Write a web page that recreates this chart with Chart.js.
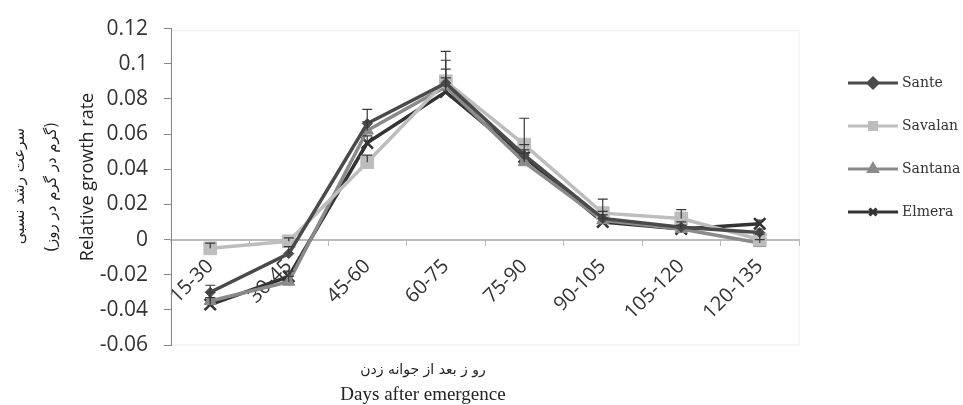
<!DOCTYPE html>
<html>
<head>
<meta charset="utf-8">
<script src="https://cdn.jsdelivr.net/npm/chart.js@4/dist/chart.umd.min.js"></script>
<style>
  html, body { margin: 0; padding: 0; background: #fff; }
  #grafico { width: 963px; height: 405px; }
</style>
</head>
<body>
<div id="grafico"><canvas id="rgr"></canvas></div>
<script>
// Días después de la emergencia (categorías del eje x)
const dias = ["15-30", "30-45", "45-60", "60-75", "75-90", "90-105", "105-120", "120-135"];
const variedades = ["Sante", "Savalan", "Santana", "Elmera"];

// Tasa relativa de crecimiento
const sante = [-0.030, -0.008, 0.066, 0.089, 0.048, 0.012, 0.007, 0.004];
const savalan = [-0.005, -0.001, 0.044, 0.090, 0.054, 0.015, 0.012, 0.000];
const santana = [-0.035, -0.024, 0.062, 0.087, 0.044, 0.011, 0.006, -0.002];
const elmera = [-0.037, -0.021, 0.055, 0.084, 0.047, 0.010, 0.006, 0.009];

// Barras de error (sólo hacia arriba, como en Excel "plus")
const errSante = [0.004, 0.004, 0.008, 0.018, 0.006, 0.004, 0.003, 0.002];
const errSavalan = [0.003, 0.002, 0.004, 0.012, 0.015, 0.008, 0.005, 0.003];
const errSantana = [0.005, 0.003, 0.005, 0.010, 0.005, 0.003, 0.002, 0.002];
const errElmera = [0.004, 0.003, 0.004, 0.008, 0.004, 0.002, 0.002, 0.002];

// Ticks del eje y
const yMin = -0.06;
const yMax = 0.12;
const yPaso = 0.02;

const colores = ["#4a4a4a", "#bdbdbd", "#8a8a8a", "#333333"];
const marcadores = ["rectRot", "rect", "triangle", "crossRot"];
const radios = [5, 9, 7, 8];

const valores = [sante, savalan, santana, elmera];
const errores = [errSante, errSavalan, errSantana, errElmera];

// Marco gris claro del área del gráfico
const marco = {
  id: "marco",
  beforeDraw(chart) {
    const { ctx, chartArea } = chart;
    ctx.save();
    ctx.strokeStyle = "#ececec";
    ctx.lineWidth = 1;
    ctx.strokeRect(chartArea.left, chartArea.top + 2, chartArea.right - chartArea.left, chartArea.bottom - chartArea.top - 2);
    ctx.restore();
  },
};

// Barras de error dibujadas con las escalas del gráfico
const barrasError = {
  id: "barrasError",
  afterDatasetsDraw(chart) {
    const { ctx } = chart;
    const y = chart.scales.y;
    ctx.save();
    ctx.strokeStyle = "#3a3a3a";
    ctx.lineWidth = 1.2;
    chart.data.datasets.forEach((ds, i) => {
      const meta = chart.getDatasetMeta(i);
      meta.data.forEach((pt, j) => {
        const v = ds.data[j];
        const e = errores[i][j];
        const yArriba = y.getPixelForValue(v + e);
        ctx.beginPath();
        ctx.moveTo(pt.x, pt.y);
        ctx.lineTo(pt.x, yArriba);
        ctx.moveTo(pt.x - 5, yArriba);
        ctx.lineTo(pt.x + 5, yArriba);
        ctx.stroke();
      });
    });
    ctx.restore();
  },
};

// Títulos de los ejes y leyenda
const textos = {
  id: "textos",
  afterDraw(chart) {
    const { ctx } = chart;
    ctx.save();
    ctx.fillStyle = "#222";
    ctx.textAlign = "center";
    ctx.textBaseline = "middle";

    // eje y
    ctx.save();
    ctx.translate(88, 177);
    ctx.rotate(-Math.PI / 2);
    ctx.font = "18px 'Open Sans'";
    ctx.fillText("Relative growth rate", 0, 0);
    ctx.restore();

    ctx.save();
    ctx.translate(52, 187);
    ctx.rotate(-Math.PI / 2);
    ctx.font = "15px 'DejaVu Sans'";
    ctx.fillText("(گرم در گرم در روز)", 0, 0);
    ctx.restore();

    ctx.save();
    ctx.translate(20, 186);
    ctx.rotate(-Math.PI / 2);
    ctx.font = "15px 'DejaVu Sans'";
    ctx.fillText("سرعت رشد نسبی", 0, 0);
    ctx.restore();

    // eje x
    ctx.font = "14px 'DejaVu Sans'";
    ctx.fillText("رو ز بعد از جوانه زدن", 423, 370);
    ctx.font = "19px 'Liberation Serif'";
    ctx.fillText("Days after emergence", 423, 395);

    // leyenda
    chart.data.datasets.forEach((ds, i) => {
      const yy = 83 + i * 43;
      ctx.strokeStyle = ds.borderColor;
      ctx.fillStyle = ds.borderColor;
      ctx.lineWidth = 3;
      ctx.beginPath();
      ctx.moveTo(848, yy);
      ctx.lineTo(898, yy);
      ctx.stroke();
      Chart.helpers.drawPoint(ctx, {
        pointStyle: ds.pointStyle,
        radius: Math.min(ds.pointRadius, 5),
        borderWidth: 1.5,
      }, 873, yy);
      ctx.fillStyle = "#333";
      ctx.textAlign = "left";
      ctx.font = "14px 'DejaVu Serif'";
      ctx.fillText(ds.label, 902, yy);
    });
    ctx.restore();
  },
};

new Chart(document.getElementById("rgr"), {
  type: "line",
  data: {
    labels: dias,
    datasets: variedades.map((nombre, i) => ({
      label: nombre,
      data: valores[i],
      borderColor: colores[i],
      backgroundColor: colores[i],
      pointBackgroundColor: colores[i],
      pointBorderColor: colores[i],
      borderWidth: 3.5,
      pointStyle: marcadores[i],
      pointRadius: radios[i],
      pointBorderWidth: i === 3 ? 2.5 : 1,
      tension: 0,
    })),
  },
  options: {
    responsive: true,
    maintainAspectRatio: false,
    animation: false,
    layout: {
      padding: { top: 23, right: 164, bottom: 60, left: 0 },
    },
    plugins: {
      legend: { display: false },
      tooltip: { enabled: false },
    },
    scales: {
      x: {
        position: { y: 0 },
        offset: true,
        grid: {
          offset: true,
          drawOnChartArea: false,
          drawTicks: true,
          tickLength: 5,
          color: "#bbbbbb",
        },
        border: { color: "#bbbbbb", width: 2 },
        ticks: {
          autoSkip: false,
          minRotation: 45,
          maxRotation: 45,
          padding: 10,
          color: "#333",
          font: { family: "'Open Sans'", size: 20 },
        },
      },
      y: {
        min: yMin,
        max: yMax,
        afterFit(scale) {
          scale.width = 171;
        },
        grid: {
          drawOnChartArea: false,
          drawTicks: true,
          tickLength: 7,
          color: "#888",
        },
        border: { color: "#888", width: 1 },
        ticks: {
          stepSize: yPaso,
          padding: 16,
          color: "#333",
          font: { family: "'Open Sans'", size: 21 },
          callback: function (numero) {
            return String(+numero.toFixed(2));
          },
        },
      },
    },
  },
  plugins: [marco, barrasError, textos],
});
</script>
</body>
</html>
